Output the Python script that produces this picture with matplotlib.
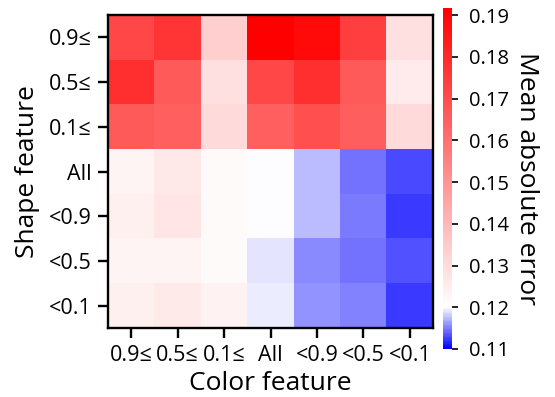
import numpy as np
import matplotlib
matplotlib.use('Agg')
import matplotlib.pyplot as plt
from matplotlib.colors import LinearSegmentedColormap, Normalize

plt.rcParams['font.family'] = ['Open Sans', 'DejaVu Sans']

# labels
shape_labels = ['0.9≤', '0.5≤', '0.1≤', 'All', '<0.9', '<0.5', '<0.1']
color_labels = ['0.9≤', '0.5≤', '0.1≤', 'All', '<0.9', '<0.5', '<0.1']

# mean absolute error, one row per shape feature (top to bottom)
row_09 = [0.1715, 0.1768, 0.1335, 0.1917, 0.1889, 0.1737, 0.1287]
row_05 = [0.1782, 0.1664, 0.1287, 0.1715, 0.1782, 0.1664, 0.1256]
row_01 = [0.1664, 0.1647, 0.1304, 0.1647, 0.1692, 0.1650, 0.1304]
row_all = [0.1228, 0.1265, 0.1214, 0.1200, 0.1175, 0.1147, 0.1131]
row_l09 = [0.1242, 0.1273, 0.1214, 0.1199, 0.1175, 0.1149, 0.1125]
row_l05 = [0.1228, 0.1228, 0.1214, 0.1190, 0.1156, 0.1146, 0.1132]
row_l01 = [0.1242, 0.1259, 0.1237, 0.1195, 0.1158, 0.1152, 0.1124]

data = np.array([row_09, row_05, row_01, row_all, row_l09, row_l05, row_l01])

vmin, vcenter, vmax = 0.11, 0.12, 0.1917
p = (vcenter - vmin) / (vmax - vmin)
cmap = LinearSegmentedColormap.from_list('bwr_c', [(0, 'blue'), (p, 'white'), (1, 'red')])

fig = plt.figure(figsize=(5.55, 3.97), dpi=100)
ax = fig.add_axes([108/555, 1 - 328/397, 325/555, 313/397])
im = ax.imshow(data, cmap=cmap, norm=Normalize(vmin, vmax), aspect='auto', interpolation='nearest')

ax.set_xticks(range(len(color_labels)))
ax.set_xticklabels(color_labels, fontsize=15.5)
ax.set_yticks(range(len(shape_labels)))
ax.set_yticklabels(shape_labels, fontsize=15.5)
ax.tick_params(length=7, width=1.7, pad=5)
for s in ax.spines.values():
    s.set_linewidth(1.7)
ax.set_xlabel('Color feature', fontsize=19, labelpad=4)
ax.set_ylabel('Shape feature', fontsize=19, labelpad=6)

cax = fig.add_axes([443/555, 1 - 349/397, 9/555, 341/397])
cb = fig.colorbar(im, cax=cax)
cb.outline.set_visible(False)
cb.set_ticks(np.arange(0.11, 0.191, 0.01))
cb.ax.tick_params(labelsize=14.5, length=4, width=1.2, pad=8)
cb.set_label('Mean absolute error', fontsize=19, rotation=270, labelpad=22)

plt.savefig('out.png', dpi=100)
